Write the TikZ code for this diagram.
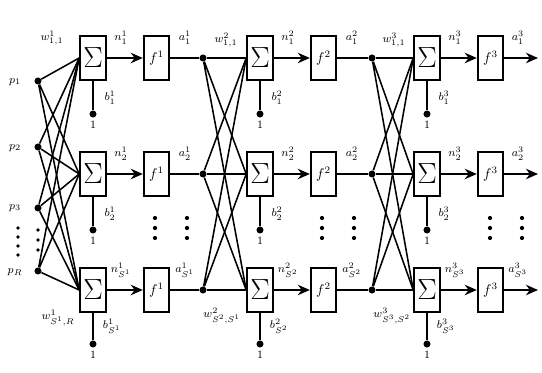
\documentclass[tikz,border=0pt]{standalone}
\usepackage{amsmath}
\usepackage{tikz}
\usetikzlibrary{arrows.meta, positioning}
\tikzstyle{sumbox} = [rectangle, draw=black, line width=1.4pt, fill=white, minimum width=0.64cm,
                      minimum height=1.08cm, inner sep=0pt, font=\huge]
\tikzstyle{fbox}   = [rectangle, draw=black, line width=1.4pt, fill=white, minimum width=0.64cm,
                      minimum height=1.08cm, inner sep=0pt, font=\normalsize]
\tikzstyle{junct}  = [circle, fill=black, inner sep=0pt, minimum size=5pt]
\tikzstyle{wire}   = [line width=1.1pt]
\tikzstyle{arrow}  = [-{Stealth[length=3mm, width=2.6mm]}, line width=1.4pt]
\tikzstyle{lbl}    = [font=\footnotesize, inner sep=1pt]

\begin{document}
\begin{tikzpicture}[x=0.025cm, y=-0.025cm]
    \useasboundingbox (0,0) rectangle (542,373);

    % inputs
    \node (p1) [junct] at (38,81) {};
    \node (p2) [junct] at (38,147) {};
    \node (p3) [junct] at (38,208) {};
    \node (pR) [junct] at (38,271) {};
    \node (lp1) [lbl] at (15,82) {$p_1$};
    \node (lp2) [lbl] at (15,148) {$p_2$};
    \node (lp3) [lbl] at (15,208) {$p_3$};
    \node (lpR) [lbl] at (15,272) {$p_R$};

    % layer 1
    \node (s11) [sumbox] at (93,58) {$\Sigma$};
    \node (s12) [sumbox] at (93,174) {$\Sigma$};
    \node (s13) [sumbox] at (93,290) {$\Sigma$};
    \node (f11) [fbox, right=0.9cm of s11] {$f^1$};
    \node (f12) [fbox, right=0.9cm of s12] {$f^1$};
    \node (f13) [fbox, right=0.9cm of s13] {$f^1$};
    \node (b11) [junct] at (93,114) {};
    \node (b12) [junct] at (93,230) {};
    \node (b13) [junct] at (93,344) {};
    \node (o11) [lbl, below=1pt of b11] {1};
    \node (o12) [lbl, below=1pt of b12] {1};
    \node (o13) [lbl, below=1pt of b13] {1};

    % layer 2
    \node (d21) [junct] at (203,58) {};
    \node (d22) [junct] at (203,174) {};
    \node (d23) [junct] at (203,290) {};
    \node (s21) [sumbox] at (260,58) {$\Sigma$};
    \node (s22) [sumbox] at (260,174) {$\Sigma$};
    \node (s23) [sumbox] at (260,290) {$\Sigma$};
    \node (f21) [fbox, right=0.9cm of s21] {$f^2$};
    \node (f22) [fbox, right=0.9cm of s22] {$f^2$};
    \node (f23) [fbox, right=0.9cm of s23] {$f^2$};
    \node (b21) [junct] at (260,114) {};
    \node (b22) [junct] at (260,230) {};
    \node (b23) [junct] at (260,344) {};
    \node (o21) [lbl, below=1pt of b21] {1};
    \node (o22) [lbl, below=1pt of b22] {1};
    \node (o23) [lbl, below=1pt of b23] {1};

    % layer 3
    \node (d31) [junct] at (372,58) {};
    \node (d32) [junct] at (372,174) {};
    \node (d33) [junct] at (372,290) {};
    \node (s31) [sumbox] at (427,58) {$\Sigma$};
    \node (s32) [sumbox] at (427,174) {$\Sigma$};
    \node (s33) [sumbox] at (427,290) {$\Sigma$};
    \node (f31) [fbox, right=0.9cm of s31] {$f^3$};
    \node (f32) [fbox, right=0.9cm of s32] {$f^3$};
    \node (f33) [fbox, right=0.9cm of s33] {$f^3$};
    \node (b31) [junct] at (427,114) {};
    \node (b32) [junct] at (427,230) {};
    \node (b33) [junct] at (427,344) {};
    \node (o31) [lbl, below=1pt of b31] {1};
    \node (o32) [lbl, below=1pt of b32] {1};
    \node (o33) [lbl, below=1pt of b33] {1};
    \coordinate (y1) at (538,58);
    \coordinate (y2) at (538,174);
    \coordinate (y3) at (538,290);

    % labels
    \node (w1a) [lbl] at (52,38) {$w^1_{1,1}$};
    \node (w1b) [lbl] at (58,318) {$w^1_{S^1,R}$};
    \node (n11) [lbl] at (121,38) {$n^1_1$};
    \node (n12) [lbl] at (121,154) {$n^1_2$};
    \node (n13) [lbl] at (121,270) {$n^1_{S^1}$};
    \node (a11) [lbl] at (185,38) {$a^1_1$};
    \node (a12) [lbl] at (185,154) {$a^1_2$};
    \node (a13) [lbl] at (185,270) {$a^1_{S^1}$};
    \node (lb11) [lbl] at (110,98) {$b^1_1$};
    \node (lb12) [lbl] at (110,214) {$b^1_2$};
    \node (lb13) [lbl] at (112,326) {$b^1_{S^1}$};

    \node (w2a) [lbl] at (226,40) {$w^2_{1,1}$};
    \node (w2b) [lbl] at (222,316) {$w^2_{S^2,S^1}$};
    \node (n21) [lbl] at (288,38) {$n^2_1$};
    \node (n22) [lbl] at (288,154) {$n^2_2$};
    \node (n23) [lbl] at (288,270) {$n^2_{S^2}$};
    \node (a21) [lbl] at (352,38) {$a^2_1$};
    \node (a22) [lbl] at (352,154) {$a^2_2$};
    \node (a23) [lbl] at (352,270) {$a^2_{S^2}$};
    \node (lb21) [lbl] at (277,98) {$b^2_1$};
    \node (lb22) [lbl] at (277,214) {$b^2_2$};
    \node (lb23) [lbl] at (279,326) {$b^2_{S^2}$};

    \node (w3a) [lbl] at (394,40) {$w^3_{1,1}$};
    \node (w3b) [lbl] at (392,316) {$w^3_{S^3,S^2}$};
    \node (n31) [lbl] at (455,38) {$n^3_1$};
    \node (n32) [lbl] at (455,154) {$n^3_2$};
    \node (n33) [lbl] at (455,270) {$n^3_{S^3}$};
    \node (a31) [lbl] at (518,38) {$a^3_1$};
    \node (a32) [lbl] at (518,154) {$a^3_2$};
    \node (a33) [lbl] at (518,270) {$a^3_{S^3}$};
    \node (lb31) [lbl] at (444,98) {$b^3_1$};
    \node (lb32) [lbl] at (444,214) {$b^3_2$};
    \node (lb33) [lbl] at (446,326) {$b^3_{S^3}$};

    % vertical dots between rows
    \foreach \x in {155,187,322,354,490,522}
        \foreach \y in {218,228,238}
            \fill (\x,\y) circle (1.5pt);
    \foreach \y in {230,240,250}
        \fill (38,\y) circle (1.3pt);
    \foreach \y in {228,237,246,255}
        \fill (18,\y) circle (1.3pt);

    % input weights
    \draw[wire] (p1) -- (s11.west) (p1) -- (s12.west) (p1) -- (s13.west);
    \draw[wire] (p2) -- (s11.west) (p2) -- (s12.west) (p2) -- (s13.west);
    \draw[wire] (p3) -- (s11.west) (p3) -- (s12.west) (p3) -- (s13.west);
    \draw[wire] (pR) -- (s11.west) (pR) -- (s12.west) (pR) -- (s13.west);

    % layer 1 to layer 2
    \draw[wire] (f11) -- (d21) -- (s21);
    \draw[wire] (f12) -- (d22) -- (s22);
    \draw[wire] (f13) -- (d23) -- (s23);
    \draw[wire] (d21) -- (s22.west) (d21) -- (s23.west);
    \draw[wire] (d22) -- (s21.west) (d22) -- (s23.west);
    \draw[wire] (d23) -- (s21.west) (d23) -- (s22.west);

    % layer 2 to layer 3
    \draw[wire] (f21) -- (d31) -- (s31);
    \draw[wire] (f22) -- (d32) -- (s32);
    \draw[wire] (f23) -- (d33) -- (s33);
    \draw[wire] (d31) -- (s32.west) (d31) -- (s33.west);
    \draw[wire] (d32) -- (s31.west) (d32) -- (s33.west);
    \draw[wire] (d33) -- (s31.west) (d33) -- (s32.west);

    % sums to transfer functions
    \draw[arrow] (s11) -- (f11);
    \draw[arrow] (s12) -- (f12);
    \draw[arrow] (s13) -- (f13);
    \draw[arrow] (s21) -- (f21);
    \draw[arrow] (s22) -- (f22);
    \draw[arrow] (s23) -- (f23);
    \draw[arrow] (s31) -- (f31);
    \draw[arrow] (s32) -- (f32);
    \draw[arrow] (s33) -- (f33);
    \draw[arrow] (f31) -- (y1);
    \draw[arrow] (f32) -- (y2);
    \draw[arrow] (f33) -- (y3);

    % biases
    \draw[wire] (s11) -- (b11) (s12) -- (b12) (s13) -- (b13);
    \draw[wire] (s21) -- (b21) (s22) -- (b22) (s23) -- (b23);
    \draw[wire] (s31) -- (b31) (s32) -- (b32) (s33) -- (b33);
\end{tikzpicture}
\end{document}
